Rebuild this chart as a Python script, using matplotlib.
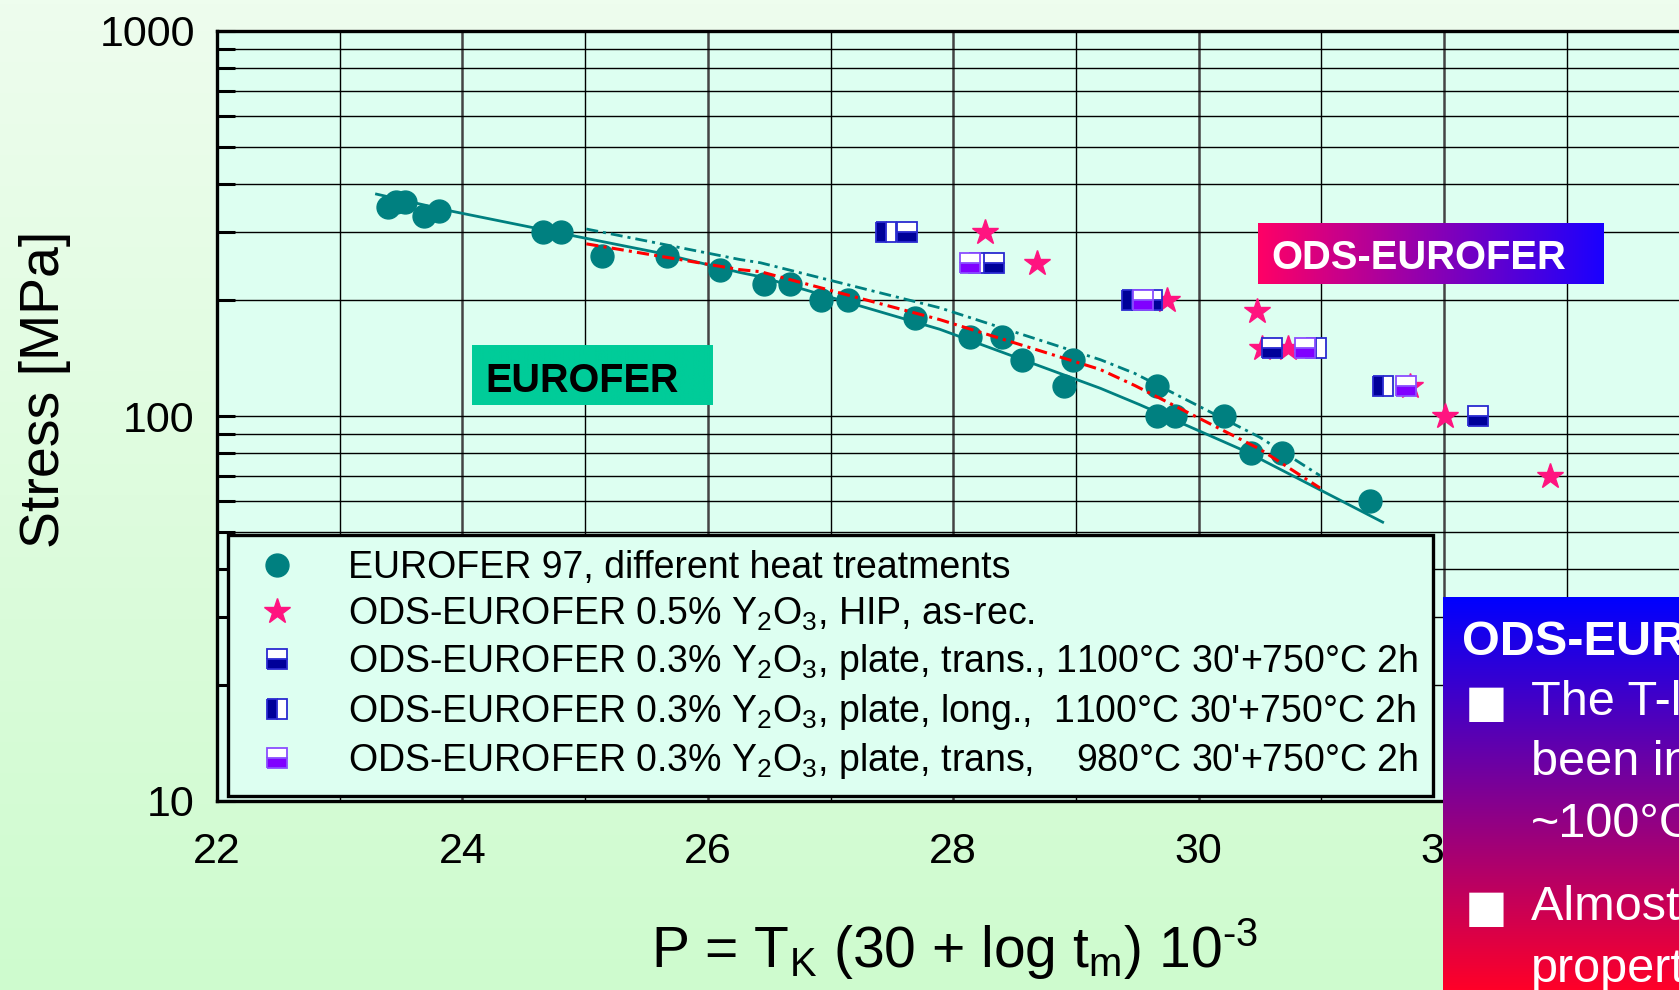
import numpy as np
import matplotlib
matplotlib.use("Agg")
import matplotlib.pyplot as plt
from matplotlib.ticker import LogLocator, NullFormatter

plt.rcParams['font.family'] = ['Liberation Sans', 'DejaVu Sans']
plt.rcParams['mathtext.fontset'] = 'custom'
plt.rcParams['mathtext.rm'] = 'Liberation Sans'
plt.rcParams['mathtext.it'] = 'Liberation Sans:italic'
plt.rcParams['mathtext.bf'] = 'Liberation Sans:bold'

# --- data ---
eurofer_p = [23.39, 23.46, 23.53, 23.69, 23.81, 24.66, 24.80, 25.14, 25.67, 26.10,
             26.46, 26.67, 26.92, 27.14, 27.69, 28.14, 28.40, 28.56, 28.98, 28.90,
             29.66, 29.66, 29.81, 30.21, 30.43, 30.68, 31.40]
eurofer_s = [350, 360, 360, 330, 340, 300, 300, 260, 260, 240,
             220, 220, 200, 200, 180, 160, 160, 140, 140, 120,
             120, 100, 100, 100, 80, 80, 60]

hip_p = [28.26, 28.68, 29.74, 30.48, 30.52, 30.73, 31.72, 32.01, 32.86]
hip_s = [300, 250, 200, 187, 150, 150, 120, 100, 70]

trans1100_p = [27.62, 28.33, 29.62, 30.60, 32.28]
trans1100_s = [300, 250, 200, 150, 100]
long1100_p = [27.45, 28.21, 29.46, 30.96, 31.50]
long1100_s = [300, 250, 200, 150, 120]
trans980_p = [28.14, 29.55, 30.87, 31.69]
trans980_s = [250, 200, 150, 120]

fit_p = [23.30, 23.90, 24.90, 25.61, 26.26, 26.43, 27.89, 29.20, 29.52, 30.38, 31.50]
fit_s = [377, 341, 294, 265, 236, 230, 168, 118, 107, 81, 53]
teal_dd_p = [25.01, 26.26, 26.43, 27.89, 29.20, 29.48, 30.50, 30.99]
teal_dd_s = [306, 255, 250, 191, 140, 129, 88, 70]
red_dd_p = [25.01, 26.26, 26.43, 27.89, 29.20, 29.48, 30.50, 30.99]
red_dd_s = [280, 240, 237, 178, 132, 120, 82, 65]

x_ticks = [22, 24, 26, 28, 30, 32, 34]
y_ticks = [10, 100, 1000]

labels = [
    "EUROFER 97, different heat treatments",
    r"ODS-EUROFER 0.5% Y$_\mathrm{2}$O$_\mathrm{3}$, HIP, as-rec.",
    r"ODS-EUROFER 0.3% Y$_\mathrm{2}$O$_\mathrm{3}$, plate, trans., 1100°C 30'+750°C 2h",
    r"ODS-EUROFER 0.3% Y$_\mathrm{2}$O$_\mathrm{3}$, plate, long.,  1100°C 30'+750°C 2h",
    r"ODS-EUROFER 0.3% Y$_\mathrm{2}$O$_\mathrm{3}$, plate, trans,    980°C 30'+750°C 2h",
]

TEAL = '#008080'
PINK = '#ff1480'
NAVY = '#000099'
PURPLE = '#8000ff'
AX_BG = '#ddfff1'

W, H = 1679, 990
fig = plt.figure(figsize=(W / 100, H / 100), dpi=100)


def fx(px):
    return px / W


def fy(py):
    return 1 - py / H


# page background gradient
bg = fig.add_axes([0, 0, 1, 1], zorder=-10)
t = np.linspace(0, 1, 256)[:, None, None]
c_top = np.array([238, 253, 238]) / 255
c_bot = np.array([206, 251, 206]) / 255
bg.imshow(c_top + (c_bot - c_top) * t, aspect='auto', extent=[0, 1, 0, 1])
bg.axis('off')

# main axes (runs off the right edge like the slide)
ax = fig.add_axes([fx(217), fy(801), 12 * 122.7 / W, (801 - 31) / H])
ax.set_facecolor(AX_BG)
ax.set_yscale('log')
ax.set_xlim(22, 34)
ax.set_ylim(10, 1000)

ax.set_xticks(x_ticks)
ax.set_xticks(np.arange(23, 34, 2), minor=True)
ax.set_xticklabels([str(v) for v in x_ticks])
ax.set_yticks(y_ticks)
ax.set_yticklabels([str(v) for v in y_ticks])
ax.yaxis.set_minor_locator(LogLocator(base=10, subs=np.arange(2, 10)))
ax.yaxis.set_minor_formatter(NullFormatter())

ax.tick_params(axis='y', which='both', direction='in', length=13, width=2.2,
               labelsize=31, pad=16)
ax.tick_params(axis='x', which='both', direction='in', length=0,
               labelsize=31, pad=22)
for s in ['left', 'top', 'bottom']:
    ax.spines[s].set_linewidth(2.4)
ax.spines['right'].set_visible(False)

ax.grid(which='major', axis='x', color='#444444', lw=1.8)
ax.grid(which='minor', axis='x', color='black', lw=1.0)
ax.grid(which='both', axis='y', color='black', lw=1.0)
ax.set_axisbelow(True)

# data
h0, = ax.plot(eurofer_p, eurofer_s, 'o', color=TEAL, ms=16.5, zorder=3)
h1, = ax.plot(hip_p, hip_s, '*', color=PINK, ms=19, zorder=4)
sq = dict(marker='s', ls='none', ms=14.4, mew=1.3, markerfacecoloralt='white', zorder=5)
h3, = ax.plot(long1100_p, long1100_s, fillstyle='left', mfc=NAVY, mec='#2a2ad0', **sq)
h2, = ax.plot(trans1100_p, trans1100_s, fillstyle='bottom', mfc=NAVY, mec='#2a2ad0', **sq)
h4, = ax.plot(trans980_p, trans980_s, fillstyle='bottom', mfc=PURPLE, mec='#8a4dff', **sq)

ax.plot(fit_p, fit_s, '-', color=TEAL, lw=2.0, zorder=6)
ax.plot(teal_dd_p, teal_dd_s, color=TEAL, lw=2.0, dashes=(4.3, 1.8, 1.1, 1.8), zorder=6)
ax.plot(red_dd_p, red_dd_s, color='red', lw=2.2, dashes=(4.0, 1.7, 1.0, 1.7), zorder=6)

leg = ax.legend([h0, h1, h2, h3, h4], labels, loc='lower left',
                bbox_to_anchor=(fx(228), fy(796)), bbox_transform=fig.transFigure,
                fontsize=27, frameon=True, fancybox=False, edgecolor='black',
                facecolor=AX_BG, framealpha=1, borderpad=0.4, borderaxespad=0,
                handlelength=1.81, handletextpad=0.99, labelspacing=0.25, numpoints=1)
leg.get_frame().set_linewidth(2.4)
leg.set_zorder(10)

# axis titles
fig.text(fx(45), fy(389), 'Stress [MPa]', rotation=90, ha='center', va='center', fontsize=40)
fig.text(fx(955), fy(968), r'P = T$_\mathrm{K}$ (30 + log t$_\mathrm{m}$) 10$^{\text{-3}}$',
         ha='center', va='baseline', fontsize=41)


def gradient_box(x0, y0, x1, y1, c0, c1, horizontal):
    bax = fig.add_axes([fx(x0), fy(y1), (x1 - x0) / W, (y1 - y0) / H], zorder=20)
    c0 = np.array(c0) / 255
    c1 = np.array(c1) / 255
    if horizontal:
        g = np.linspace(0, 1, 256)[None, :, None]
    else:
        g = np.linspace(0, 1, 256)[:, None, None]
    bax.imshow(c0 + (c1 - c0) * g, aspect='auto', extent=[0, 1, 0, 1])
    bax.axis('off')
    return bax


# EUROFER tag
gradient_box(472, 345, 713, 405, (0, 204, 153), (0, 204, 153), True)
fig.text(fx(485), fy(392), 'EUROFER', fontsize=28.5, fontweight='bold', color='black',
         va='baseline', zorder=30)

# ODS-EUROFER tag
gradient_box(1258, 223, 1604, 284, (255, 0, 102), (26, 0, 255), True)
fig.text(fx(1271), fy(269), 'ODS-EUROFER', fontsize=28.8, fontweight='bold', color='white',
         va='baseline', zorder=30)

# side panel (cut by the slide edge)
gradient_box(1443, 597, 1679, 990, (0, 0, 255), (255, 0, 40), False)
fig.text(fx(1462), fy(655), 'ODS-EUROFER', fontsize=35, fontweight='bold', color='white',
         va='baseline', zorder=30)
panel_lines = [(715, 'The T-limit has', True), (775, 'been increased by', False),
               (837, '~100°C', False), (920, 'Almost isotropic', True),
               (982, 'properties', False)]
for yb, txt, bullet in panel_lines:
    if bullet:
        fig.text(fx(1465), fy(yb + 11), '\u25a0', fontsize=51, color='white',
                 va='baseline', zorder=30)
    fig.text(fx(1531), fy(yb), txt, fontsize=35, color='white', va='baseline', zorder=30)

fig.savefig('out.png', dpi=100)
